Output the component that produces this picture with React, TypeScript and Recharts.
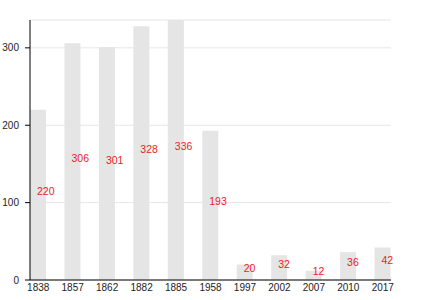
import { BarChart, Bar, XAxis, YAxis, CartesianGrid, LabelList } from 'recharts';

const years = ['1838', '1857', '1862', '1882', '1885', '1958', '1997', '2002', '2007', '2010', '2017'];
const population = [220, 306, 301, 328, 336, 193, 20, 32, 12, 36, 42];
const yTicks = [0, 100, 200, 300];

const data = years.map((year, i) => ({ year, value: population[i] }));

const font = '"Liberation Sans", Arial, sans-serif';

const renderLabel = (props: any) => {
  const { x, y, width, height, value } = props;
  return (
    <text
      x={Number(x) + Number(width) / 2 - 1}
      y={Number(y) + Number(height) / 2}
      textAnchor="start"
      fill="#ee1c25"
      fontSize={10.5}
      fontFamily={font}
    >
      {value}
    </text>
  );
};

export default function App() {
  return (
    <div style={{ position: 'absolute', left: 0, top: 0 }}>
      <BarChart
        width={430}
        height={300}
        data={data}
        margin={{ top: 20, right: 39, bottom: 0, left: 0 }}
      >
        <CartesianGrid vertical={false} stroke="#e6e6e6" />
        <XAxis
          dataKey="year"
          padding={{ left: -9, right: -9 }}
          axisLine={{ stroke: '#000' }}
          tickLine={false}
          tickSize={2}
          tickMargin={2}
          height={20}
          interval={0}
          tick={{ fill: '#222', fontSize: 10, fontFamily: font }}
        />
        <YAxis
          domain={[0, 336]}
          ticks={yTicks}
          width={30}
          axisLine={{ stroke: '#000' }}
          tickLine={{ stroke: '#000' }}
          tickSize={5}
          tickMargin={6}
          tick={{ fill: '#222', fontSize: 10, fontFamily: font }}
        />
        <Bar dataKey="value" fill="#e5e5e5" barSize={16} isAnimationActive={false}>
          <LabelList dataKey="value" content={renderLabel} />
        </Bar>
      </BarChart>
    </div>
  );
}
